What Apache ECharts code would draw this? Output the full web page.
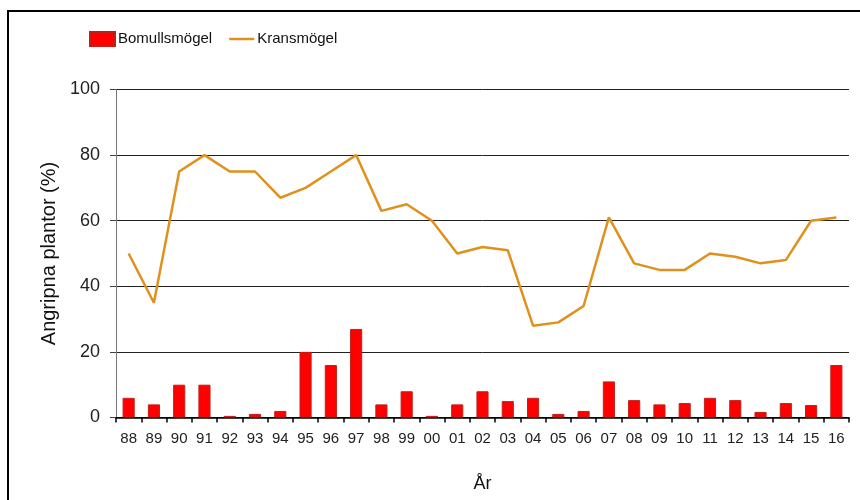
<!DOCTYPE html>
<html>
<head>
<meta charset="utf-8">
<script src="https://cdn.jsdelivr.net/npm/echarts@6/dist/echarts.min.js"></script>
<style>
html,body{margin:0;padding:0;background:#fff;}
#chart{width:860px;height:500px;}
</style>
</head>
<body>
<div id="chart"></div>
<script>
const years = ['88','89','90','91','92','93','94','95','96','97','98','99','00','01','02','03','04','05','06','07','08','09','10','11','12','13','14','15','16'];
const bomullsmogel = [6,4,10,10,0.5,1.1,2,20,16,27,4,8,0.5,4,8,5,6,1.1,2,11,5.3,4,4.4,6,5.3,1.7,4.4,3.8,16];
const kransmogel = [50,35,75,80,75,75,67,70,75,80,63,65,60,50,52,51,28,29,34,61,47,45,45,50,49,47,48,60,61];
const yTicks = [0,20,40,60,80,100];

const font = '"Liberation Sans", Arial, sans-serif';
const chart = echarts.init(document.getElementById('chart'));
chart.setOption({
  animation: false,
  backgroundColor: '#fff',
  graphic: [{
    type: 'rect',
    shape: {x: 8, y: 11, width: 1000, height: 1000},
    style: {fill: 'none', stroke: '#000', lineWidth: 2},
    silent: true
  }],
  legend: {
    left: 84, top: 26,
    itemWidth: 25, itemHeight: 14, itemGap: 17,
    textStyle: {fontFamily: font, fontSize: 15, color: '#111', padding: [0, 0, 0, -2]},
    data: [
      {name: 'Bomullsmögel', icon: 'rect'},
      {name: 'Kransmögel', icon: 'path://M0,0L25,0L25,2.5L0,2.5Z'}
    ]
  },
  grid: {left: 116, right: 11, top: 89.5, bottom: 82.5},
  xAxis: {
    type: 'category',
    data: years,
    name: 'År',
    nameLocation: 'middle',
    nameGap: 58,
    nameTextStyle: {fontFamily: font, fontSize: 18, color: '#111'},
    axisLine: {lineStyle: {color: '#000', width: 1.5}},
    axisTick: {show: true, alignWithLabel: false, length: 5, lineStyle: {color: '#000', width: 1.5}},
    axisLabel: {fontFamily: font, fontSize: 15, color: '#222', margin: 14, interval: 0},
    splitLine: {show: false}
  },
  yAxis: {
    type: 'value',
    min: yTicks[0], max: yTicks[yTicks.length - 1], interval: 20,
    name: 'Angripna plantor (%)',
    nameLocation: 'middle',
    nameRotate: 90,
    nameGap: 56,
    nameTextStyle: {fontFamily: font, fontSize: 20, color: '#111'},
    axisLine: {show: true, lineStyle: {color: '#777', width: 1}},
    axisTick: {show: true, length: 6, lineStyle: {color: '#444'}},
    axisLabel: {fontFamily: font, fontSize: 18, color: '#222', margin: 16},
    splitLine: {show: true, lineStyle: {color: '#222', width: 1}}
  },
  series: [
    {
      name: 'Bomullsmögel',
      type: 'bar',
      data: bomullsmogel,
      barWidth: '48%',
      barMinHeight: 1,
      itemStyle: {color: '#FF0000', borderColor: '#C0201A', borderWidth: 1}
    },
    {
      name: 'Kransmögel',
      type: 'line',
      data: kransmogel,
      symbol: 'none',
      lineStyle: {color: '#E0901C', width: 2.5},
      itemStyle: {color: '#E0901C'}
    }
  ]
});
</script>
</body>
</html>
